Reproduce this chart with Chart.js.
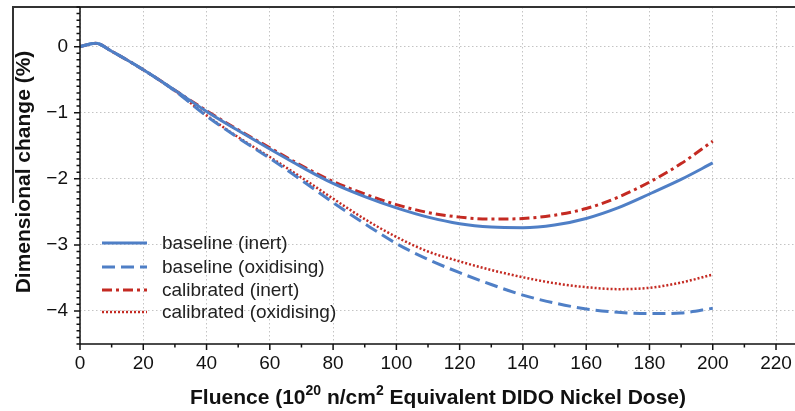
<!DOCTYPE html>
<html>
<head>
<meta charset="utf-8">
<script src="https://cdn.jsdelivr.net/npm/chart.js@4/dist/chart.umd.min.js"></script>
<style>
	body { margin: 0; background: #fff; }
	canvas { display: block; }
</style>
</head>
<body>
<canvas id="CanvasDimensionalChange" width="795" height="411"></canvas>
<script>
// fluence (10^20 n/cm2 EDND)
var fluence = [0, 5, 10, 20, 30, 40, 50, 60, 70, 80, 90, 100, 110, 120, 130, 140, 150, 160, 170, 180, 190, 200];

// dimensional change (%)
var baselineInert = [0, 0.05, -0.07, -0.35, -0.66, -0.98, -1.27, -1.55, -1.82, -2.07, -2.27, -2.44, -2.58, -2.68, -2.73, -2.74, -2.70, -2.60, -2.44, -2.23, -2.01, -1.76];
var baselineOxidising = [0, 0.05, -0.07, -0.35, -0.67, -1.05, -1.38, -1.69, -2.02, -2.36, -2.68, -2.98, -3.22, -3.42, -3.60, -3.76, -3.88, -3.97, -4.02, -4.04, -4.03, -3.96];
var calibratedInert = [0, 0.05, -0.07, -0.35, -0.66, -0.97, -1.26, -1.53, -1.80, -2.04, -2.23, -2.39, -2.51, -2.58, -2.61, -2.60, -2.55, -2.45, -2.28, -2.05, -1.77, -1.43];
var calibratedOxidising = [0, 0.05, -0.07, -0.35, -0.67, -1.04, -1.37, -1.67, -1.98, -2.30, -2.61, -2.88, -3.10, -3.25, -3.38, -3.49, -3.58, -3.64, -3.67, -3.65, -3.57, -3.45];

var seriesLabels = ['baseline (inert)', 'baseline (oxidising)', 'calibrated (inert)', 'calibrated (oxidising)'];
var xTicks = [0, 20, 40, 60, 80, 100, 120, 140, 160, 180, 200, 220];
var yTicks = [0, -1, -2, -3, -4];

var blue = '#4f7fc6';
var red = '#c42a22';
var fontFamily = '"Liberation Sans", Arial, Helvetica, sans-serif';

function $each(arr, fn) { for (var i = 0; i < arr.length; i++) fn(i, arr[i]); }
function toPoints(values) {
	var pts = [];
	$each(values, function (i, v) { pts.push({ x: fluence[i], y: v }); });
	return pts;
}

var datasets = [];
datasets.push({ label: seriesLabels[0], data: toPoints(baselineInert), borderColor: blue, borderWidth: 3, borderDash: [] });
datasets.push({ label: seriesLabels[1], data: toPoints(baselineOxidising), borderColor: blue, borderWidth: 3, borderDash: [13, 6] });
datasets.push({ label: seriesLabels[2], data: toPoints(calibratedInert), borderColor: red, borderWidth: 3, borderDash: [10, 4, 3, 4] });
datasets.push({ label: seriesLabels[3], data: toPoints(calibratedOxidising), borderColor: red, borderWidth: 2.5, borderDash: [2, 2] });

// axes, tick marks, frame lines
var framePlugin = {
	id: 'frame',
	afterDatasetsDraw: function (chart) {
		var ctx = chart.ctx, xs = chart.scales.x, ys = chart.scales.y, a = chart.chartArea;
		ctx.save();
		ctx.strokeStyle = '#333';
		ctx.lineWidth = 2;
		ctx.beginPath();
		ctx.moveTo(12, a.top); ctx.lineTo(a.right, a.top);
		ctx.moveTo(13, a.top); ctx.lineTo(13, 203);
		ctx.stroke();

		ctx.strokeStyle = '#111';
		ctx.lineWidth = 1.5;
		ctx.beginPath();
		ctx.moveTo(a.left, a.top); ctx.lineTo(a.left, a.bottom); ctx.lineTo(a.right, a.bottom);
		// x ticks every 10
		for (var v = 0; v <= 220; v += 10) {
			var px = xs.getPixelForValue(v);
			ctx.moveTo(px, a.bottom); ctx.lineTo(px, a.bottom + (v % 20 === 0 ? 6 : 3.5));
		}
		// y ticks every 0.1
		for (var k = -45; k <= 6; k++) {
			var py = ys.getPixelForValue(k / 10);
			ctx.moveTo(a.left, py); ctx.lineTo(a.left - (k % 10 === 0 ? 6 : 3.5), py);
		}
		ctx.stroke();
		ctx.restore();
	}
};

// axis titles (x title has superscripts)
var titlePlugin = {
	id: 'titles',
	afterDraw: function (chart) {
		var ctx = chart.ctx;
		ctx.save();
		ctx.fillStyle = '#111';
		ctx.textBaseline = 'alphabetic';
		var big = 'bold 21px ' + fontFamily, small = 'bold 14px ' + fontFamily;
		var parts = [['Fluence (10', big, 0], ['20', small, -9], [' n/cm', big, 0], ['2', small, -9], [' Equivalent DIDO Nickel Dose)', big, 0]];
		var total = 0;
		$each(parts, function (i, p) { ctx.font = p[1]; total += ctx.measureText(p[0]).width; });
		var x = 438 - total / 2;
		$each(parts, function (i, p) {
			ctx.font = p[1];
			ctx.fillText(p[0], x, 404 + p[2]);
			x += ctx.measureText(p[0]).width;
		});
		ctx.translate(30, 172);
		ctx.rotate(-Math.PI / 2);
		ctx.font = big;
		ctx.textAlign = 'center';
		ctx.fillText('Dimensional change (%)', 0, 0);
		ctx.restore();
	}
};

// legend inside the plot, lower left
var legendPlugin = {
	id: 'innerLegend',
	afterDraw: function (chart) {
		var ctx = chart.ctx;
		var rows = [243, 267, 290, 312];
		ctx.save();
		ctx.font = '19px ' + fontFamily;
		ctx.textBaseline = 'middle';
		ctx.fillStyle = '#222';
		$each(chart.data.datasets, function (i, ds) {
			ctx.strokeStyle = ds.borderColor;
			ctx.lineWidth = ds.borderWidth;
			ctx.setLineDash(ds.borderDash);
			ctx.beginPath();
			ctx.moveTo(102, rows[i]); ctx.lineTo(147, rows[i]);
			ctx.stroke();
			ctx.fillText(ds.label, 162, rows[i] + 1);
		});
		ctx.restore();
	}
};

var context = document.getElementById('CanvasDimensionalChange');
var myChart = new Chart(context, {
	type: 'line',
	data: { datasets: datasets },
	options: {
		responsive: false,
		animation: false,
		devicePixelRatio: 1,
		layout: { padding: { top: 7, left: 0, right: 0, bottom: 0 } },
		elements: {
			point: { radius: 0 },
			line: { cubicInterpolationMode: 'monotone', fill: false, borderCapStyle: 'butt' }
		},
		plugins: { legend: { display: false }, tooltip: { enabled: false } },
		scales: {
			x: {
				type: 'linear', min: 0, max: 226,
				afterBuildTicks: function (axis) { axis.ticks = xTicks.map(function (v) { return { value: v }; }); },
				afterFit: function (axis) { axis.height = 67; axis.paddingLeft = 0; axis.paddingRight = 0; },
				grid: { color: '#c4c4c4', lineWidth: 1, drawTicks: false },
				border: { display: false, dash: [1.5, 2.5] },
				ticks: { color: '#111', padding: 8, maxRotation: 0, font: { size: 19, family: fontFamily } }
			},
			y: {
				min: -4.5, max: 0.6,
				afterBuildTicks: function (axis) { axis.ticks = yTicks.map(function (v) { return { value: v }; }); },
				afterFit: function (axis) { axis.width = 80; axis.paddingTop = 0; axis.paddingBottom = 0; },
				grid: { color: '#c4c4c4', lineWidth: 1, drawTicks: false },
				border: { display: false, dash: [1.5, 2.5] },
				ticks: {
					color: '#111', padding: 12, font: { size: 19, family: fontFamily },
					callback: function (value) { return String(value).replace('-', '\u2212'); }
				}
			}
		}
	},
	plugins: [framePlugin, titlePlugin, legendPlugin]
});
</script>
</body>
</html>
